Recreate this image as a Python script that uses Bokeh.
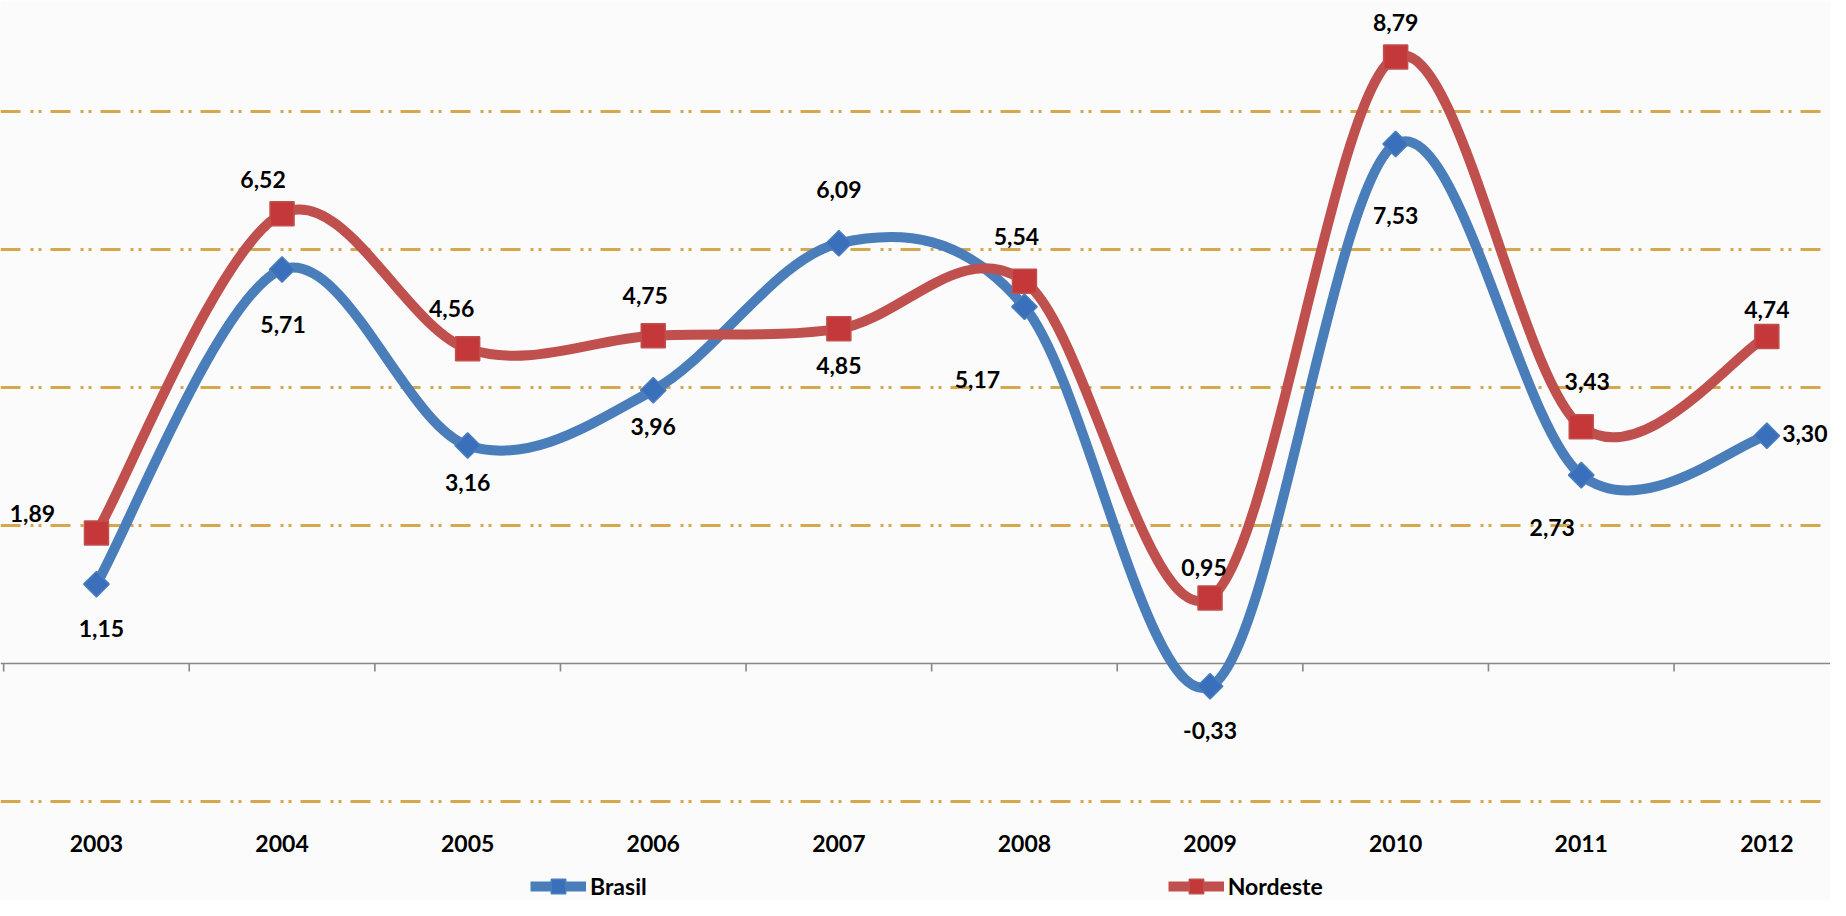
import numpy as np
from bokeh.plotting import figure
from bokeh.models import Range1d, FixedTicker, Span, ColumnDataSource, Legend, LegendItem, Grid
from bokeh.core.properties import value
from bokeh.embed import file_html
from bokeh.resources import INLINE

# ---- data ----
years = ["2003", "2004", "2005", "2006", "2007", "2008", "2009", "2010", "2011", "2012"]
brasil = [1.15, 5.71, 3.16, 3.96, 6.09, 5.17, -0.33, 7.53, 2.73, 3.30]
nordeste = [1.89, 6.52, 4.56, 4.75, 4.85, 5.54, 0.95, 8.79, 3.43, 4.74]
grid_values = [-2, 2, 4, 6, 8]

# ---- label placement (screen px, style only) ----
brasil_dx = [5, 1, 0, 0, 0, -47, 0, 0, -29, 38]
brasil_dy = [44, 55, 37, 36, -54, 73, 44, 72, 52, -2]
nordeste_dx = [-64, -19, -16, -8, 0, -8, -6, 0, 6, 0]
nordeste_dy = [-20, -34, -40, -40, 37, -45, -30, -35, -45, -27]

BLUE = "#4A7EBB"
BLUE_MK = "#3A6FBC"
RED = "#C0504D"
RED_MK = "#C4383A"
GRID = "#D6A84E"
FONT = value("Lato")

x = list(range(len(years)))


def bezier_source(ys):
    n = len(ys)
    d = dict(x0=[], y0=[], x1=[], y1=[], cx0=[], cy0=[], cx1=[], cy1=[])
    for i in range(n - 1):
        im1 = max(i - 1, 0)
        ip2 = min(i + 2, n - 1)
        d["x0"].append(x[i]); d["y0"].append(ys[i])
        d["x1"].append(x[i + 1]); d["y1"].append(ys[i + 1])
        d["cx0"].append(x[i] + (x[i + 1] - x[im1]) / 6.0)
        d["cy0"].append(ys[i] + (ys[i + 1] - ys[im1]) / 6.0)
        d["cx1"].append(x[i + 1] - (x[ip2] - x[i]) / 6.0)
        d["cy1"].append(ys[i + 1] - (ys[ip2] - ys[i]) / 6.0)
    return ColumnDataSource(d)


def fmt(v):
    return f"{v:.2f}".replace(".", ",")


p = figure(width=1830, height=900, output_backend="svg", toolbar_location=None,
           x_range=Range1d(-0.517, 9.343), y_range=Range1d(-3.435, 9.609),
           x_axis_location=None, y_axis_location=None, min_border=0,
           background_fill_color="#FBFBFC", border_fill_color="#FBFBFC",
           outline_line_color=None)
p.grid.visible = False

grid = Grid(dimension=1, ticker=FixedTicker(ticks=grid_values),
            grid_line_color=GRID, grid_line_width=3, grid_line_dash="20 10 3 5 3 9")
p.add_layout(grid)

zero = Span(location=0, dimension="width", line_color="#878787", line_width=1.6, level="underlay")
p.add_layout(zero)

# category boundary ticks on the zero axis
bounds = [i - 0.5 for i in range(len(years) + 1)]
p.ray(x=bounds, y=[0] * len(bounds), length=8, length_units="screen", angle=-np.pi / 2,
      line_color="#878787", line_width=1.6)

# curves
b_line = p.bezier(x0="x0", y0="y0", x1="x1", y1="y1", cx0="cx0", cy0="cy0", cx1="cx1", cy1="cy1",
                  source=bezier_source(brasil), line_color=BLUE, line_width=10)
n_line = p.bezier(x0="x0", y0="y0", x1="x1", y1="y1", cx0="cx0", cy0="cy0", cx1="cx1", cy1="cy1",
                  source=bezier_source(nordeste), line_color=RED, line_width=10)

b_mk = p.scatter(x=x, y=brasil, marker="square", size=18, angle=np.pi / 4,
                 fill_color=BLUE_MK, line_color=BLUE, line_width=1.5)
n_mk = p.scatter(x=x, y=nordeste, marker="square", size=24,
                 fill_color=RED_MK, line_color=RED, line_width=1.5)

lab_src_b = ColumnDataSource(dict(x=x, y=brasil, t=[fmt(v) for v in brasil], dx=brasil_dx, dy=brasil_dy))
lab_src_n = ColumnDataSource(dict(x=x, y=nordeste, t=[fmt(v) for v in nordeste], dx=nordeste_dx, dy=nordeste_dy))
for src in (lab_src_b, lab_src_n):
    p.text(x="x", y="y", text="t", x_offset="dx", y_offset="dy", source=src,
           text_font=FONT, text_font_style="bold", text_font_size="23px",
           text_color="#000000", text_align="center", text_baseline="middle")

# category labels
p.text(x=x, y=[grid_values[0]] * len(x), text=years, y_offset=42,
       text_font=FONT, text_font_style="bold", text_font_size="23px",
       text_color="#000000", text_align="center", text_baseline="middle")

legend = Legend(items=[LegendItem(label="Brasil", renderers=[b_line, b_mk]),
                       LegendItem(label="Nordeste", renderers=[n_line, n_mk])],
                orientation="horizontal", location=(530, -4), spacing=521,
                glyph_width=56, glyph_height=36, label_standoff=4, padding=0, margin=0,
                background_fill_alpha=0, border_line_alpha=0,
                label_text_font="Lato", label_text_font_style="bold", label_text_font_size="23px",
                label_text_color="#000000")
p.add_layout(legend)

open("out.html", "w").write(file_html(p, INLINE))
